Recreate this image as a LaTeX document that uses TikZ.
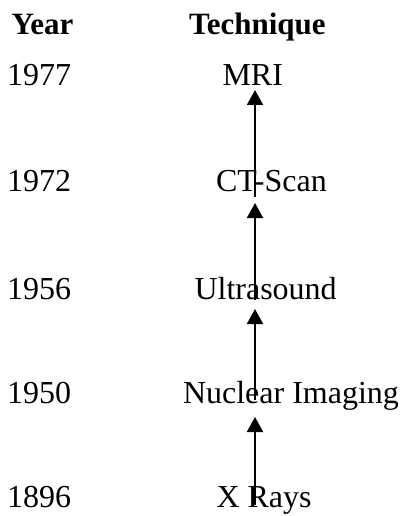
\documentclass[tikz,border=0pt]{standalone}
\usepackage{fontspec}
\setmainfont{Liberation Serif}
\usetikzlibrary{arrows.meta}
\begin{document}
\begin{tikzpicture}[x=1bp,y=-1bp,
  txt/.style={inner sep=0pt,outer sep=0pt,anchor=base west,font=\fontsize{32bp}{38bp}\selectfont},
  hdr/.style={txt,font=\fontsize{31bp}{38bp}\selectfont\bfseries},
  arr/.style={line width=1.9bp,-{Triangle[length=15bp,width=16bp]}}]
\useasboundingbox (0,0) rectangle (401,516);
\node[hdr] (hy) at (11.5,35) {Year};
\node[hdr] (ht) at (189,35) {Technique};
\node[txt] (y1) at (7,86) {1977};
\node[txt] (y2) at (7,192) {1972};
\node[txt] (y3) at (7,299) {1956};
\node[txt] (y4) at (7,403) {1950};
\node[txt] (y5) at (7,507) {1896};
\coordinate (ax) at (255,0);
\node[txt] (mri) at (222.5,86) {MRI};
\node[txt] (ct) at (216,192) {CT-Scan};
\node[txt] (us) at (194.5,299) {Ultrasound};
\node[txt] (ni) at (183,403) {Nuclear Imaging};
\node[txt] (xr) at (216.5,507) {X Rays};
\draw[arr] ([yshift=-5bp]ct.base -| ax) -- ([yshift=-4bp]mri.base -| ax);
\draw[arr] ([yshift=-1bp]us.base -| ax) -- ([yshift=-11bp]ct.base -| ax);
\draw[arr] ([yshift=3bp]ni.base -| ax) -- ([yshift=-10bp]us.base -| ax);
\draw[arr] ([yshift=2bp]xr.base -| ax) -- ([yshift=-14bp]ni.base -| ax);
\end{tikzpicture}
\end{document}
